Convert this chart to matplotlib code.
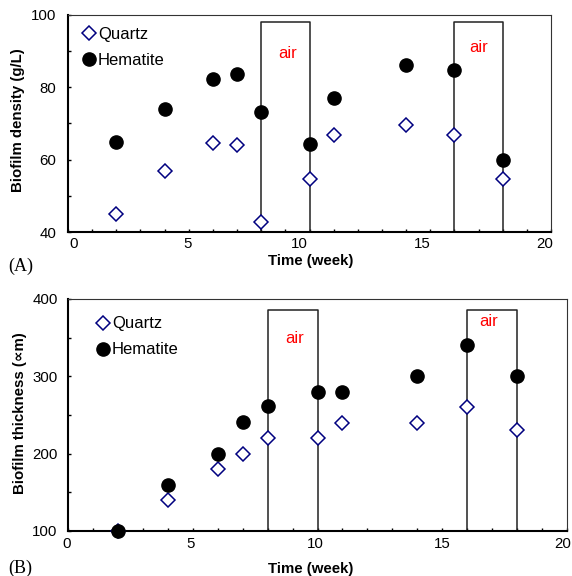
import matplotlib
matplotlib.use("Agg")
import matplotlib.pyplot as plt
from matplotlib.lines import Line2D
from matplotlib.transforms import ScaledTranslation

plt.rcParams['font.family'] = ['Liberation Sans', 'DejaVu Sans']

# ---- data ----
weeks = [2, 4, 6, 7, 8, 10, 11, 14, 16, 18]
density_quartz = [45, 57, 64.7, 64, 42.8, 54.7, 66.9, 69.7, 66.9, 54.7]
density_hematite = [65, 74.1, 82.3, 83.8, 73.1, 64.2, 77, 86.2, 84.8, 60]
thick_quartz = [100, 140, 180, 200, 220, 220, 240, 240, 260, 230]
thick_hematite = [100, 160, 200, 241, 261, 280, 280, 300, 341, 300]
air_periods = [(8, 10), (16, 18)]
air_top_A = 98
air_top_B = 386
air_label_A = [(9.1, 89.4), (17.0, 90.9)]
air_label_B = [(9.1, 349), (16.85, 371)]
series_names = ["Quartz", "Hematite"]

W, H = 572, 576
fig = plt.figure(figsize=(W / 100, H / 100), dpi=100)

def px_axes(l, t, r, b):
    return fig.add_axes([l / W, 1 - b / H, (r - l) / W, (b - t) / H])

axA = px_axes(68, 15, 551, 232)
axB = px_axes(68, 299, 567, 531)

navy = '#000080'

def style(ax, ylim, ymaj, ymin, xpad, ypad):
    ax.set_xlim(0, 20)
    ax.set_ylim(*ylim)
    ax.set_xticks(range(0, 21, 5))
    ax.set_xticks(range(0, 21, 1), minor=True)
    ax.set_yticks(ymaj)
    ax.set_yticks(ymin, minor=True)
    ax.tick_params(which='both', direction='in', length=2.5, width=1, labelsize=10.8)
    ax.tick_params(axis='x', which='both', pad=xpad)
    ax.tick_params(axis='y', which='both', pad=ypad)
    for s in ['left', 'bottom']:
        ax.spines[s].set_linewidth(1.5)
        ax.spines[s].set_color('black')
    for s in ['top', 'right']:
        ax.spines[s].set_linewidth(0.8)
        ax.spines[s].set_color('#333333')

def shift_xlabels(ax, offsets_px):
    for lab, dx in zip(ax.xaxis.get_majorticklabels(), offsets_px):
        lab.set_transform(lab.get_transform() + ScaledTranslation(dx / 100, 0, fig.dpi_scale_trans))

def draw(ax, yq, yh, ybot, top, labels, legend_anchor):
    for (a, b) in air_periods:
        ax.plot([a, a, b, b], [ybot, top, top, ybot], color='#222222', lw=1.1, zorder=2, clip_on=False)
    for (x, y) in labels:
        ax.text(x, y, 'air', color='red', fontsize=12, ha='center', va='center')
    ax.plot(weeks, yq, linestyle='none', marker='D', markersize=6.7, markerfacecolor='white',
            markeredgecolor=navy, markeredgewidth=1.1, zorder=3, clip_on=False)
    ax.plot(weeks, yh, linestyle='none', marker='o', markersize=9.5, markerfacecolor='black',
            markeredgecolor='black', zorder=4, clip_on=False)
    handles = [Line2D([], [], linestyle='none', marker='D', markersize=6.7, markerfacecolor='white',
                      markeredgecolor=navy, markeredgewidth=1.1),
               Line2D([], [], linestyle='none', marker='o', markersize=9.5, color='black')]
    ax.legend(handles, series_names, loc='upper left', bbox_to_anchor=legend_anchor, frameon=False,
              fontsize=12, handlelength=0.7, handletextpad=0.2, labelspacing=0.66,
              borderpad=0, borderaxespad=0)

style(axA, (40, 100), [40, 60, 80, 100], [50, 70, 90], 3.6, 8.5)
draw(axA, density_quartz, density_hematite, 40, air_top_A, air_label_A, (0.031, 0.945))
axA.set_xlabel('Time (week)', fontsize=10.8, fontweight='bold')
axA.set_ylabel('Biofilm density (g/L)', fontsize=10.8, fontweight='bold')
axA.xaxis.set_label_coords(0.503, -0.134)
axA.xaxis.label.set_va('center')
axA.yaxis.set_label_coords(-0.1035, 0.514)
axA.yaxis.label.set_va('center')
shift_xlabels(axA, [6, -1, -10, -8, -6])

style(axB, (100, 400), [100, 200, 300, 400], [150, 250, 350], 4.5, 7.5)
draw(axB, thick_quartz, thick_hematite, 100, air_top_B, air_label_B, (0.058, 0.925))
axB.set_xlabel('Time (week)', fontsize=10.8, fontweight='bold')
axB.set_ylabel('Biofilm thickness (\u221dm)', fontsize=10.8, fontweight='bold')
axB.xaxis.set_label_coords(0.487, -0.164)
axB.xaxis.label.set_va('center')
axB.yaxis.set_label_coords(-0.096, 0.51)
axB.yaxis.label.set_va('center')
shift_xlabels(axB, [-1, -2, -2, 0, -4])

fig.text(8 / W, 1 - 266 / H, '(A)', family='Liberation Serif', fontsize=13, ha='left', va='center')
fig.text(8 / W, 1 - 568 / H, '(B)', family='Liberation Serif', fontsize=13, ha='left', va='center')

fig.savefig('out.png', dpi=100)
